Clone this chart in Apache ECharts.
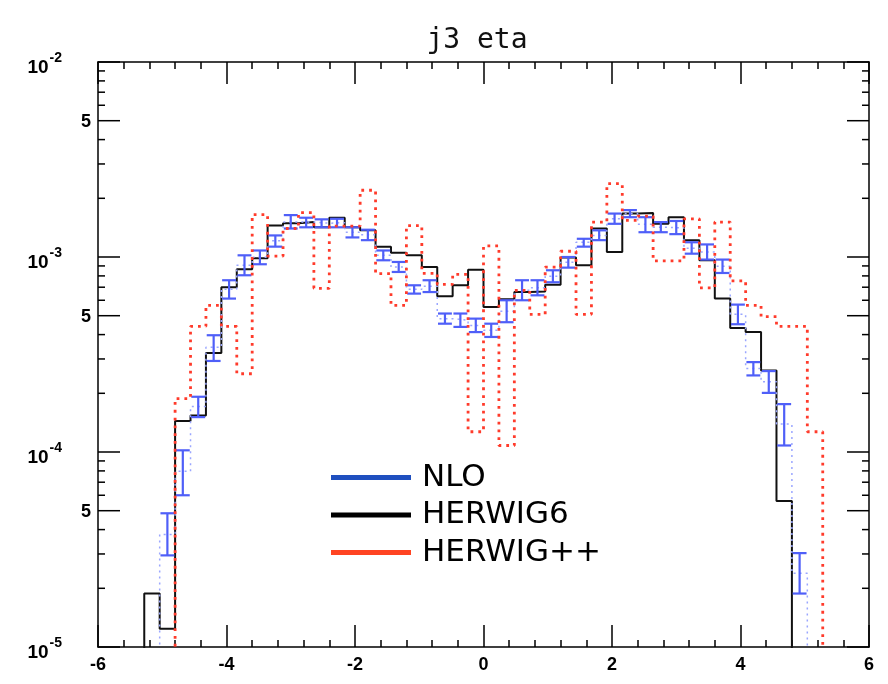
<!DOCTYPE html>
<html>
<head>
<meta charset="utf-8">
<script src="https://cdn.jsdelivr.net/npm/echarts@6/dist/echarts.min.js"></script>
<style>
html,body{margin:0;padding:0;background:#fff;}
#chart{width:888px;height:684px;}
</style>
</head>
<body>
<div id="chart"></div>
<script>
// ---- data ----
const title = 'j3 eta';
const seriesNames = ['NLO', 'HERWIG6', 'HERWIG++'];
const BIN_W = 0.24;
const binLow = [-5.28,-5.04,-4.80,-4.56,-4.32,-4.08,-3.84,-3.60,-3.36,-3.12,-2.88,-2.64,-2.40,-2.16,-1.92,-1.68,-1.44,-1.20,-0.96,-0.72,-0.48,-0.24,
                 0.00,0.24,0.48,0.72,0.96,1.20,1.44,1.68,1.92,2.16,2.40,2.64,2.88,3.12,3.36,3.60,3.84,4.08,4.32,4.56,4.80,5.04];
const herwig6 = [1.88e-5,1.24e-5,1.44e-4,1.54e-4,3.22e-4,7.0e-4,8.65e-4,9.85e-4,1.45e-3,1.49e-3,1.51e-3,1.42e-3,1.59e-3,1.42e-3,1.37e-3,1.13e-3,1.05e-3,1.02e-3,8.88e-4,6.29e-4,7.16e-4,8.6e-4,
                 5.54e-4,6.07e-4,6.61e-4,6.66e-4,7.2e-4,9.93e-4,9.07e-4,1.40e-3,1.06e-3,1.67e-3,1.68e-3,1.48e-3,1.60e-3,1.22e-3,9.62e-4,6.12e-4,4.32e-4,4.12e-4,2.62e-4,5.61e-5,null,null];
const herwigpp = [null,null,1.88e-4,4.41e-4,5.65e-4,4.41e-4,2.52e-4,1.65e-3,1.01e-3,1.40e-3,1.69e-3,6.91e-4,1.44e-3,1.44e-3,2.20e-3,8.22e-4,5.65e-4,1.45e-3,8.25e-4,7.24e-4,8.15e-4,1.27e-4,
                  1.14e-3,1.08e-4,6.75e-4,5.08e-4,8.88e-4,1.07e-3,5.08e-4,1.51e-3,2.38e-3,1.54e-3,1.62e-3,9.56e-4,9.56e-4,1.57e-3,6.95e-4,1.51e-3,7.55e-4,5.65e-4,4.94e-4,4.41e-4,4.41e-4,1.27e-4];
const nlo = [null,3.78e-5,7.96e-5,1.71e-4,3.44e-4,6.83e-4,9.07e-4,9.96e-4,1.21e-3,1.51e-3,1.51e-3,1.49e-3,1.50e-3,1.34e-3,1.30e-3,1.02e-3,8.88e-4,6.83e-4,7.07e-4,4.83e-4,4.74e-4,4.46e-4,
             4.21e-4,5.27e-4,6.75e-4,6.95e-4,7.97e-4,9.39e-4,1.19e-3,1.29e-3,1.57e-3,1.67e-3,1.47e-3,1.42e-3,1.41e-3,1.11e-3,1.06e-3,8.97e-4,5.08e-4,2.68e-4,2.29e-4,1.39e-4,2.39e-5,null];
const nloLo = [null,2.95e-5,6.0e-5,1.51e-4,2.93e-4,6.12e-4,8.06e-4,9.18e-4,1.13e-3,1.40e-3,1.42e-3,1.42e-3,1.42e-3,1.26e-3,1.22e-3,9.62e-4,8.38e-4,6.49e-4,6.61e-4,4.55e-4,4.38e-4,4.12e-4,
               3.89e-4,4.63e-4,6.0e-4,6.36e-4,7.42e-4,8.82e-4,1.13e-3,1.22e-3,1.48e-3,1.60e-3,1.34e-3,1.34e-3,1.31e-3,1.04e-3,9.7e-4,8.28e-4,4.52e-4,2.47e-4,2.01e-4,1.08e-4,1.88e-5,null];
const nloHi = [null,4.85e-5,1.02e-4,1.92e-4,3.97e-4,7.6e-4,1.02e-3,1.08e-3,1.29e-3,1.64e-3,1.59e-3,1.56e-3,1.57e-3,1.42e-3,1.38e-3,1.08e-3,9.43e-4,7.16e-4,7.6e-4,5.13e-4,5.13e-4,4.83e-4,
               4.55e-4,6.0e-4,7.6e-4,7.6e-4,8.55e-4,1.0e-3,1.24e-3,1.37e-3,1.67e-3,1.74e-3,1.60e-3,1.51e-3,1.53e-3,1.19e-3,1.16e-3,9.7e-4,5.70e-4,2.89e-4,2.60e-4,1.76e-4,3.03e-5,null];
// axis ticks
const xTicks = [-6,-4,-2,0,2,4,6];
const yFiveTicks = [5e-5,5e-4,5e-3];
const yMinorTicks = [2e-5,3e-5,4e-5,6e-5,7e-5,8e-5,9e-5,2e-4,3e-4,4e-4,6e-4,7e-4,8e-4,9e-4,2e-3,3e-3,4e-3,6e-3,7e-3,8e-3,9e-3];

// ---- helpers ----
const FLOOR = 1e-7;
function steps(vals) {
  const pts = [[binLow[0], FLOOR]];
  for (let i = 0; i < vals.length; i++) {
    const v = vals[i] == null ? FLOOR : vals[i];
    pts.push([binLow[i], v]);
    pts.push([binLow[i] + BIN_W, v]);
  }
  pts.push([binLow[binLow.length - 1] + BIN_W, FLOOR]);
  return pts;
}
const errData = [];
nlo.forEach((v, i) => { if (v != null) errData.push([binLow[i] + BIN_W / 2, nloLo[i], nloHi[i]]); });

const FONT = 'Liberation Sans';
const tickStyle = { color: '#000', width: 1.5 };

const chart = echarts.init(document.getElementById('chart'), null, { renderer: 'canvas' });
chart.setOption({
  animation: false,
  backgroundColor: '#fff',
  title: {
    text: title, left: 472, top: 22, textAlign: 'center',
    textStyle: { fontSize: 28, fontWeight: 'normal', fontFamily: 'DejaVu Sans Mono', color: '#111' }
  },
  grid: { left: 98, top: 62, width: 771, height: 585, containLabel: false },
  legend: {
    orient: 'vertical', left: 326, top: 457, itemWidth: 80, itemHeight: 5, itemGap: 6.5, icon: 'rect',
    textStyle: { fontSize: 31, fontFamily: 'DejaVu Sans', color: '#000', padding: [0, 0, 0, 6] },
    data: [
      { name: 'NLO', itemStyle: { color: '#1f4fbf' } },
      { name: 'HERWIG6', itemStyle: { color: '#000' } },
      { name: 'HERWIG++', itemStyle: { color: '#ff4422' } }
    ]
  },
  xAxis: [
    { type: 'value', min: -6, max: 6, interval: 2, position: 'bottom',
      axisLine: { show: true, onZero: false, lineStyle: tickStyle },
      axisTick: { show: true, inside: true, length: 22, lineStyle: tickStyle },
      minorTick: { show: true, splitNumber: 5, length: 7, lineStyle: tickStyle },
      axisLabel: { fontSize: 18, fontWeight: 'bold', color: '#000', fontFamily: FONT, margin: 9 },
      splitLine: { show: false } },
    { type: 'value', min: -6, max: 6, interval: 2, position: 'top',
      axisLine: { show: true, onZero: false, lineStyle: tickStyle },
      axisTick: { show: true, inside: true, length: 22, lineStyle: tickStyle },
      minorTick: { show: true, splitNumber: 5, length: 7, lineStyle: tickStyle },
      axisLabel: { show: false }, splitLine: { show: false } }
  ],
  yAxis: [
    { type: 'log', logBase: 10, min: 1e-5, max: 1e-2, position: 'left',
      axisLine: { show: true, onZero: false, lineStyle: tickStyle },
      axisTick: { show: true, inside: true, length: 22, lineStyle: tickStyle },
      axisLabel: { margin: 36, color: '#000',
        formatter: v => '{b|10}{s|' + Math.round(Math.log10(v)) + '}',
        rich: { b: { fontSize: 19, fontWeight: 'bold', fontFamily: FONT, color: '#000', padding: [12, 0, 0, 0] },
                s: { fontSize: 14, fontWeight: 'bold', fontFamily: FONT, color: '#000', padding: [0, 0, 8, 1] } } },
      splitLine: { show: false } },
    { type: 'log', logBase: 10, min: 1e-5, max: 1e-2, position: 'right',
      axisLine: { show: true, onZero: false, lineStyle: tickStyle },
      axisTick: { show: true, inside: true, length: 22, lineStyle: tickStyle },
      axisLabel: { show: false }, splitLine: { show: false } }
  ],
  series: [
    { name: 'HERWIG6', type: 'line', data: steps(herwig6), showSymbol: false, symbol: 'none', clip: true,
      lineStyle: { color: '#111', width: 2 }, itemStyle: { color: '#000' }, z: 3 },
    { name: 'NLO', type: 'line', data: steps(nlo), showSymbol: false, symbol: 'none', clip: true,
      lineStyle: { color: '#9aa6ff', width: 1.5, type: [2, 4] }, itemStyle: { color: '#1f4fbf' }, z: 4 },
    { name: 'NLO', type: 'custom', data: errData, clip: true, z: 5,
      itemStyle: { color: '#1f4fbf' },
      renderItem: function (params, api) {
        const x = api.value(0);
        const pLo = api.coord([x, api.value(1)]);
        const pHi = api.coord([x, api.value(2)]);
        const half = api.size([BIN_W, 0])[0] * 0.45;
        const st = { stroke: '#4f5ff8', lineWidth: 2.2 };
        return { type: 'group', children: [
          { type: 'line', shape: { x1: pLo[0], y1: pLo[1], x2: pHi[0], y2: pHi[1] }, style: st },
          { type: 'line', shape: { x1: pLo[0] - half, y1: pLo[1], x2: pLo[0] + half, y2: pLo[1] }, style: st },
          { type: 'line', shape: { x1: pHi[0] - half, y1: pHi[1], x2: pHi[0] + half, y2: pHi[1] }, style: st }
        ] };
      } },
    { name: 'HERWIG++', type: 'line', data: steps(herwigpp), showSymbol: false, symbol: 'none', clip: true,
      lineStyle: { color: '#ff3b2b', width: 2.8, type: [2.8, 5] }, itemStyle: { color: '#ff4422' }, z: 6 },
    { name: 'yMinor', type: 'custom', silent: true, z: 7,
      data: yMinorTicks.map(v => [-6, v]),
      renderItem: function (params, api) {
        const v = api.value(1);
        const pL = api.coord([-6, v]), pR = api.coord([6, v]);
        const st = { stroke: '#000', lineWidth: 1.5 };
        return { type: 'group', children: [
          { type: 'line', shape: { x1: pL[0], y1: pL[1], x2: pL[0] + 7, y2: pL[1] }, style: st },
          { type: 'line', shape: { x1: pR[0], y1: pR[1], x2: pR[0] - 7, y2: pR[1] }, style: st }
        ] };
      } },
    { name: 'yFive', type: 'custom', silent: true, z: 7,
      data: yFiveTicks.map(v => [-6, v]),
      renderItem: function (params, api) {
        const v = api.value(1);
        const pL = api.coord([-6, v]), pR = api.coord([6, v]);
        const st = { stroke: '#000', lineWidth: 1.5 };
        return { type: 'group', children: [
          { type: 'line', shape: { x1: pL[0], y1: pL[1], x2: pL[0] + 22, y2: pL[1] }, style: st },
          { type: 'line', shape: { x1: pR[0], y1: pR[1], x2: pR[0] - 22, y2: pR[1] }, style: st },
          { type: 'text', x: pL[0] - 7, y: pL[1] + 1, style: { text: '5', fill: '#000', font: 'bold 18px "Liberation Sans"', align: 'right', verticalAlign: 'middle' } }
        ] };
      } }
  ]
});
</script>
</body>
</html>
